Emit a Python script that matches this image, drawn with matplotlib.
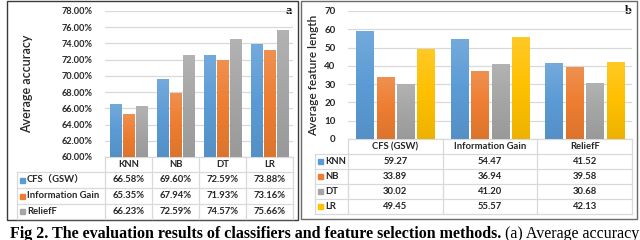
import matplotlib
matplotlib.use("Agg")
import numpy as np
import matplotlib.pyplot as plt
from matplotlib.patches import Rectangle
from matplotlib.colors import LinearSegmentedColormap, to_rgb

# ---------------- data ----------------
classifiers = ["KNN", "NB", "DT", "LR"]
methods_a = ["CFS（GSW）", "Information Gain", "ReliefF"]
acc_cfs = [66.58, 69.60, 72.59, 73.88]
acc_ig = [65.35, 67.94, 71.93, 73.16]
acc_relief = [66.23, 72.59, 74.57, 75.66]
acc_ticks = [60, 62, 64, 66, 68, 70, 72, 74, 76, 78]

methods_b = ["CFS (GSW)", "Information Gain", "ReliefF"]
len_knn = [59.27, 54.47, 41.52]
len_nb = [33.89, 36.94, 39.58]
len_dt = [30.02, 41.20, 30.68]
len_lr = [49.45, 55.57, 42.13]
len_ticks = [0, 10, 20, 30, 40, 50, 60, 70]

caption_bold = "Fig 2. The evaluation results of classifiers and feature selection methods."
caption_reg = " (a) Average accuracy"

# ---------------- style ----------------
C_BLUE, C_ORANGE, C_GRAY, C_YELLOW = "#5B9BD5", "#ED7D31", "#A5A5A5", "#FFC000"
GRID = "#D9D9D9"
TXT = "#262626"
FONT = ["Lato", "Noto Sans CJK SC", "DejaVu Sans"]
plt.rcParams["font.family"] = FONT

W, H = 640, 240
fig = plt.figure(figsize=(6.4, 2.4), dpi=100)


def add_ax(x0, y0, x1, y1):
    return fig.add_axes([x0 / W, 1 - y1 / H, (x1 - x0) / W, (y1 - y0) / H])


ov = fig.add_axes([0, 0, 1, 1])
ov.set_xlim(0, W)
ov.set_ylim(H, 0)
ov.axis("off")

# panel borders
ov.add_patch(Rectangle((6.5, 0.5), 291.5, 219, fill=False, ec="#3a3a3a", lw=1.0))
ov.add_patch(Rectangle((301, 0.5), 336, 218.5, fill=False, ec="#6a6a6a", lw=1.0))


def shade(c, f):
    r = np.array(to_rgb(c))
    return tuple(r + (1 - r) * f) if f > 0 else tuple(r * (1 + f))


def gradient_bars(ax, bars, col):
    cmap = LinearSegmentedColormap.from_list("g", [shade(col, -0.07), col, shade(col, 0.15)])
    grad = np.linspace(0, 1, 64).reshape(-1, 1)
    for p in bars:
        x, y = p.get_x(), p.get_y()
        w, h = p.get_width(), p.get_height()
        im = ax.imshow(grad, extent=[x, x + w, y, y + h], origin="lower", cmap=cmap,
                       aspect="auto", zorder=3.5, interpolation="bilinear")
        im.set_clip_path(p)


def style_axis(ax, ylim, ticks, labels, fs):
    ax.set_ylim(*ylim)
    ax.set_yticks(ticks)
    ax.set_yticklabels(labels, fontsize=fs, fontweight="bold", color=TXT)
    ax.set_xticks([])
    ax.tick_params(axis="y", length=0, pad=9)
    for s in ax.spines.values():
        s.set_visible(False)
    ax.grid(axis="y", color=GRID, lw=0.9)
    ax.set_axisbelow(True)
    ax.patch.set_alpha(0)


def draw_table(x0, x1, y_top, row_edges, leg_x, cols, rows, colors, labels, fs):
    n = len(cols)
    colw = (x1 - x0) / n
    ov.plot([x0, x1], [y_top, y_top], color=GRID, lw=0.9)
    for y in row_edges:
        ov.plot([leg_x, x1], [y, y], color=GRID, lw=0.9)
    for i in range(n + 1):
        ov.plot([x0 + i * colw] * 2, [y_top, row_edges[-1]], color=GRID, lw=0.9)
    ov.plot([leg_x, leg_x], [row_edges[0], row_edges[-1]], color=GRID, lw=0.9)
    for i, c in enumerate(cols):
        ov.text(x0 + (i + 0.5) * colw, (y_top + row_edges[0]) / 2, c, ha="center",
                va="center", fontsize=fs, fontweight="bold", color=TXT)
    for r, (vals, col, lab) in enumerate(zip(rows, colors, labels)):
        yc = (row_edges[r] + row_edges[r + 1]) / 2
        ov.add_patch(Rectangle((leg_x + 2.5, yc - 2.5), 5, 5, color=col))
        ov.text(leg_x + 10, yc, lab, ha="left", va="center", fontsize=fs,
                fontweight="bold", color=TXT)
        for i, v in enumerate(vals):
            ov.text(x0 + (i + 0.5) * colw, yc, v, ha="center", va="center",
                    fontsize=fs, fontweight="bold", color=TXT)


# ---------------- panel a ----------------
axa = add_ax(105, 11, 293, 157)
style_axis(axa, (60, 78), acc_ticks, [f"{t:.2f}%" for t in acc_ticks], 6.6)
xs = range(len(classifiers))
bw, step = 0.235, 0.275
for k, (vals, col) in enumerate(zip([acc_cfs, acc_ig, acc_relief], [C_BLUE, C_ORANGE, C_GRAY])):
    bars = axa.bar([x + (k - 1) * step for x in xs], [v - 60 for v in vals], bottom=60,
                   width=bw, color=col, zorder=3)
    gradient_bars(axa, bars, col)
axa.set_xlim(-0.5, len(classifiers) - 0.5)
axa.set_ylim(60, 78)
axa.set_ylabel("Average accuracy", fontsize=9, fontweight="semibold", color=TXT)
axa.yaxis.set_label_coords(-0.385, 0.5)
ov.text(289, 11, "a", ha="center", va="center", fontsize=9, fontweight="bold",
        family="Liberation Serif", color="#111")

draw_table(105, 293, 157, [172, 188, 204, 219], 17, classifiers,
           [[f"{v:.2f}%" for v in acc_cfs], [f"{v:.2f}%" for v in acc_ig],
            [f"{v:.2f}%" for v in acc_relief]],
           [C_BLUE, C_ORANGE, C_GRAY], methods_a, 6.8)

# ---------------- panel b ----------------
axb = add_ax(348, 11, 632, 139)
style_axis(axb, (0, 70), len_ticks, [str(t) for t in len_ticks], 7)
xs = range(len(methods_b))
bw, step = 0.18, 0.216
for k, (vals, col) in enumerate(zip([len_knn, len_nb, len_dt, len_lr],
                                    [C_BLUE, C_ORANGE, C_GRAY, C_YELLOW])):
    bars = axb.bar([x + (k - 1.5) * step for x in xs], vals, width=bw, color=col, zorder=3)
    gradient_bars(axb, bars, col)
axb.set_xlim(-0.5, len(methods_b) - 0.5)
axb.set_ylim(0, 70)
axb.set_ylabel("Average feature length", fontsize=8.6, fontweight="semibold", color=TXT)
axb.yaxis.set_label_coords(-0.102, 0.5)
ov.text(628, 11, "b", ha="center", va="center", fontsize=9, fontweight="bold",
        family="Liberation Serif", color="#111")

draw_table(348, 632, 139, [154, 169, 184, 199, 214], 315, methods_b,
           [[f"{v:.2f}" for v in len_knn], [f"{v:.2f}" for v in len_nb],
            [f"{v:.2f}" for v in len_dt], [f"{v:.2f}" for v in len_lr]],
           [C_BLUE, C_ORANGE, C_GRAY, C_YELLOW], classifiers, 6.8)

# ---------------- caption ----------------
t1 = ov.text(10, 237.5, caption_bold, ha="left", va="baseline", fontsize=11.5,
             fontweight="bold", family="Liberation Serif", color="#000")
ov.annotate(caption_reg, xy=(1, 0), xycoords=t1, ha="left", va="bottom",
            fontsize=11.5, family="Liberation Serif", color="#000",
            annotation_clip=False)

fig.savefig("out.png", dpi=100)
